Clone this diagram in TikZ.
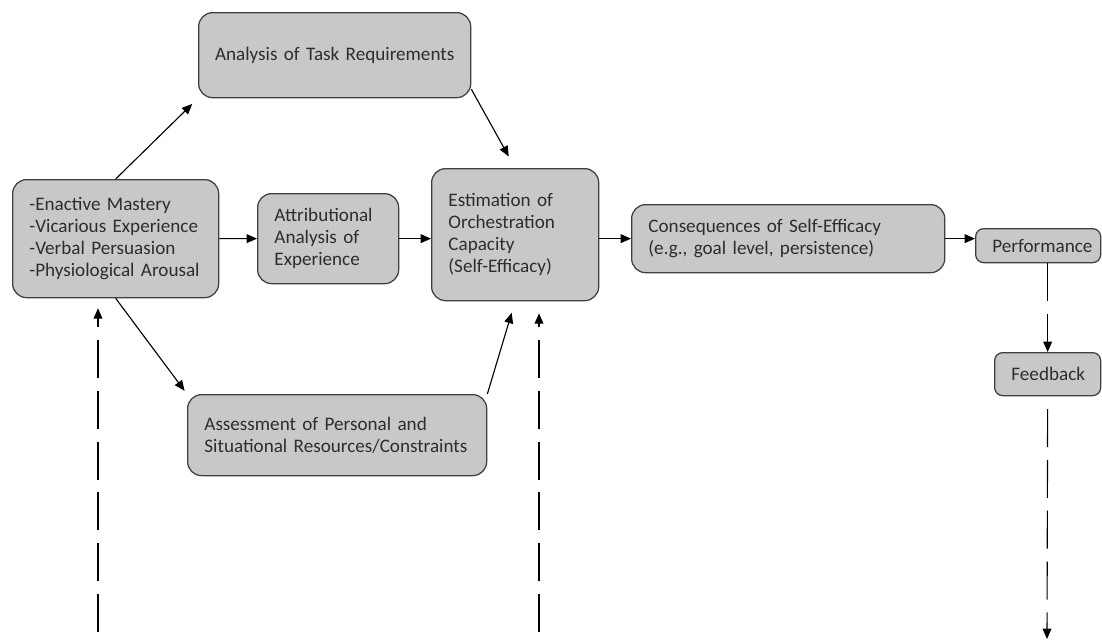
\documentclass[tikz,border=0pt]{standalone}
\usepackage{fontspec}
\setmainfont{Carlito}
\usetikzlibrary{arrows.meta}
\definecolor{boxfill}{RGB}{200,200,200}
\definecolor{boxline}{RGB}{64,64,64}
\definecolor{boxtext}{RGB}{45,45,45}
\begin{document}
\begin{tikzpicture}[x=0.025cm, y=-0.025cm,
	box/.style={draw=boxline, fill=boxfill, line width=0.9pt, rounded corners=0.35cm,
		anchor=north west, align=left, inner xsep=0.42cm, inner ysep=0pt,
		text=boxtext, font=\fontsize{13.6}{15.6}\selectfont},
	arr/.style={line width=0.8pt, -{Triangle[length=2.6mm,width=2.2mm]}},
	dasharr/.style={arr, dash pattern=on 0.95cm off 0.32cm}]
	\useasboundingbox (0, 0) rectangle (1102, 640);

	\node[box, text width=4.31cm, minimum height=2.95cm] at (12, 179)  (src) {-Enactive Mastery\\-Vicarious Experience\\-Verbal Persuasion\\-Physiological Arousal};
	\node[box, text width=6.4cm, inner xsep=0.2cm, minimum height=2.125cm, align=center] at (198, 12)  (task) {Analysis of Task Requirements};
	\node[box, text width=2.685cm, minimum height=2.25cm] at (257, 193)  (attr) {Attributional\\Analysis of\\Experience};
	\node[box, text width=3.335cm, minimum height=3.3cm] at (431, 168)  (est) {Estimation of\\Orchestration\\Capacity\\(Self-Efficacy)};
	\node[box, text width=6.635cm, minimum height=2.025cm] at (187, 394)  (asm) {Assessment of Personal and\\Situational Resources/Constraints};

	\node[box, text width=6.985cm, minimum height=1.7cm] at (631, 204)  (cons) {Consequences of Self-Efficacy\\(e.g., goal level, persistence)};
	\node[box, text width=2.285cm, minimum height=0.85cm, rounded corners=0.2cm] at (975, 228)  (perf) {Performance};
	\node[box, text width=1.81cm, minimum height=1.075cm, rounded corners=0.2cm] at (994, 352)  (fb) {Feedback};

	\coordinate (srcin) at (98, 640);
	\coordinate (estin) at (539, 640);
	\coordinate (fbout) at (1047, 639);

	% draw edges
	\draw[arr, shorten >=0.2cm] (src.north) -- (task.south west);
	\draw[arr, shorten >=0.33cm] (task.-14) -- (est.north);
	\draw[arr] (src.east) -- (attr.west);
	\draw[arr] (attr.east) -- (attr.east -| est.west);
	\draw[arr] (est.east |- cons.west) -- (cons.west);
	\draw[arr] (cons.east) -- (cons.east -| perf.west);
	\draw[arr, shorten >=0.1cm] (src.south) -- (asm.north west);
	\draw[arr, shorten >=0.3cm] (asm.north east) -- (est.south);

	% dashed feedback lines
	\draw[dasharr] (fb.north |- perf.south) -- (fb.north);
	\draw[dasharr, dash phase=0.95cm] (fb.south) -- (fbout);
	\draw[dasharr, dash phase=1.07cm, shorten >=0.25cm] (srcin) -- (srcin |- src.south);
	\draw[dasharr, dash phase=1.07cm, shorten >=0.3cm] (estin) -- (estin |- est.south);
\end{tikzpicture}
\end{document}
